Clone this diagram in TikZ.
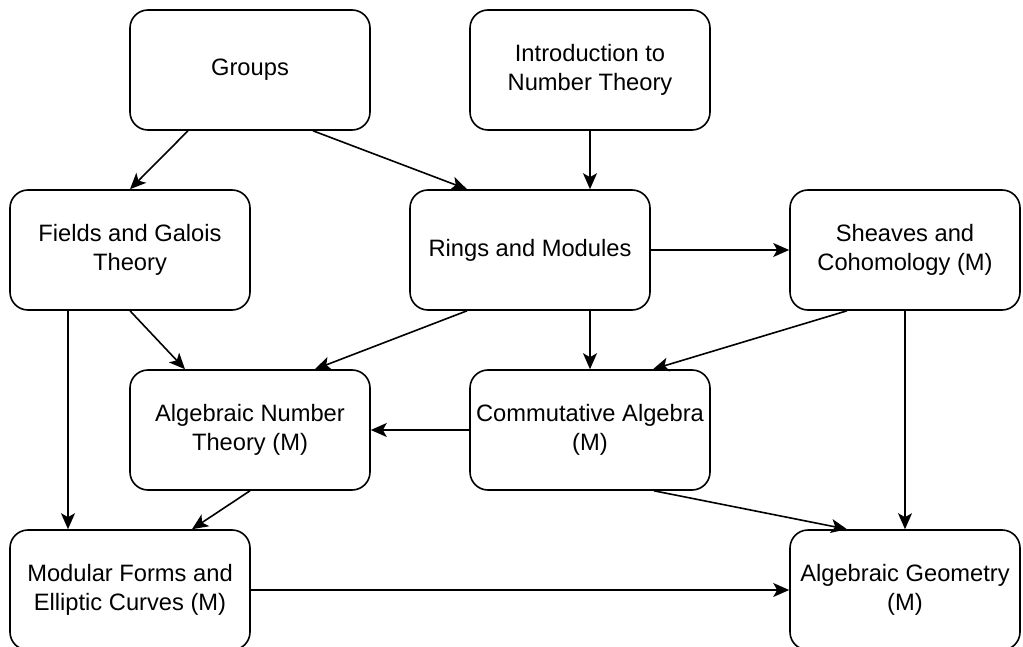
\documentclass[tikz,border=0pt]{standalone}
\usepackage{fontspec}
\setmainfont{Liberation Sans}
\usepackage{tikz}
\usetikzlibrary{positioning,arrows.meta}

\begin{document}
\begin{tikzpicture}[
    x=1pt, y=-1pt,
    course/.style={draw, rectangle, rounded corners=18pt, align=center, line width=1.6pt,
        minimum width=240pt, minimum height=120pt, inner sep=2pt,
        font=\fontsize{23.7}{28.5}\selectfont},
    line/.style={-{Stealth[length=16pt, width=14pt, inset=4pt]}, line width=1.6pt}
]
\useasboundingbox (0,0) rectangle (1023,647);

% Top row
\node[course] (groups) at (250,70) {Groups};
\node[course] (intro) at (590,70) {Introduction to\\Number Theory};

% Second row
\node[course] (fields) at (130,250) {Fields and Galois\\Theory};
\node[course] (rings) at (530,250) {Rings and Modules};
\node[course, minimum width=230pt] (sheaves) at (905,250) {Sheaves and\\Cohomology (M)};

% Third row
\node[course] (algnt) at (250,430) {Algebraic Number\\Theory (M)};
\node[course] (commalg) at (590,430) {Commutative Algebra\\(M)};

% Bottom row
\node[course] (modular) at (130,590) {Modular Forms and\\Elliptic Curves (M)};
\node[course, minimum width=230pt] (alggeom) at (905,590) {Algebraic Geometry\\(M)};

\draw[line] ([xshift=-62pt]groups.south) -- (fields.north);
\draw[line] ([xshift=63pt]groups.south) -- ([xshift=-63pt]rings.north);
\draw[line] (intro.south) -- ([xshift=60pt]rings.north);
\draw[line] (rings.east) -- (sheaves.west);

\draw[line] (fields.south) -- ([xshift=-65pt]algnt.north);
\draw[line] ([xshift=-62pt]fields.south) -- ([xshift=-62pt]modular.north);
\draw[line] ([xshift=-63pt]rings.south) -- ([xshift=65pt]algnt.north);
\draw[line] ([xshift=60pt]rings.south) -- (commalg.north);
\draw[line] ([xshift=-58pt]sheaves.south) -- ([xshift=63pt]commalg.north);
\draw[line] (sheaves.south) -- (alggeom.north);

\draw[line] (commalg.west) -- (algnt.east);
\draw[line] (algnt.south) -- ([xshift=62pt]modular.north);
\draw[line] ([xshift=64pt]commalg.south) -- ([xshift=-58pt]alggeom.north);
\draw[line] (modular.east) -- (alggeom.west);

\end{tikzpicture}
\end{document}
